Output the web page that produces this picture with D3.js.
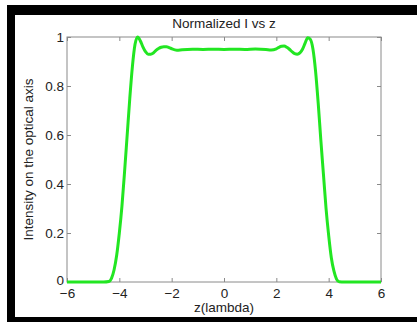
<!DOCTYPE html>
<html>
<head>
<meta charset="utf-8">
<script src="https://cdn.jsdelivr.net/npm/d3@7"></script>
<style>
  body { margin: 0; background: #fff; }
  svg { display: block; font-family: "Liberation Sans", Arial, sans-serif; }
</style>
</head>
<body>
<div id="chart"></div>
<script>
// data: z (lambda) vs normalized intensity
const zVals = [
  -6, -5.5, -5, -4.6, -4.4, -4.3, -4.2, -4.1, -4.0, -3.9, -3.8, -3.7, -3.6, -3.5, -3.4, -3.3,
  -3.2, -3.1, -3.0, -2.9, -2.8, -2.7, -2.6, -2.5, -2.4, -2.3, -2.2, -2.1, -2.0, -1.8, -1.6,
  -1.2, -0.8, -0.4, 0, 0.4, 0.8, 1.2, 1.6, 1.8, 2.0, 2.1, 2.2, 2.3, 2.4, 2.5, 2.6, 2.7,
  2.8, 2.9, 3.0, 3.1, 3.2, 3.3, 3.4, 3.5, 3.6, 3.7, 3.8, 3.9, 4.0, 4.1, 4.2, 4.3, 4.4, 4.6, 5, 5.5, 6
]
const intensity = [
  0, 0, 0, 0, 0.002, 0.015, 0.05, 0.11, 0.2, 0.31, 0.45, 0.6, 0.75, 0.88, 0.97, 1.0,
  0.985, 0.96, 0.94, 0.93, 0.93, 0.935, 0.945, 0.953, 0.958, 0.96, 0.96, 0.957, 0.952, 0.946, 0.948,
  0.95, 0.949, 0.95, 0.949, 0.95, 0.949, 0.951, 0.949, 0.947, 0.952, 0.958, 0.962, 0.963, 0.958, 0.95, 0.94, 0.932,
  0.93, 0.935, 0.95, 0.975, 0.997, 0.99, 0.95, 0.86, 0.73, 0.58, 0.44, 0.3, 0.19, 0.1, 0.045, 0.012, 0.001, 0, 0, 0, 0
]
const xTicks = [-6, -4, -2, 0, 2, 4, 6]
const yTicks = [0, 0.2, 0.4, 0.6, 0.8, 1]

const width = 417
const height = 322
const margin = {top: 37, right: 36, bottom: 40, left: 67}
const fontSize = "13.5px"

const svg = d3.select("#chart")
  .append("svg")
    .attr("width", width)
    .attr("height", height)

// black frame (left, top, bottom)
svg.append("rect").attr("x", 7).attr("y", 5).attr("width", 8).attr("height", height - 5).attr("fill", "#000")
svg.append("rect").attr("x", 7).attr("y", 5).attr("width", width - 7).attr("height", 10).attr("fill", "#000")
svg.append("rect").attr("x", 7).attr("y", 317).attr("width", width - 7).attr("height", 5).attr("fill", "#000")

const x = d3.scaleLinear()
  .domain([-6, 6])
  .range([margin.left, width - margin.right])

const y = d3.scaleLinear()
  .domain([0, 1])
  .range([height - margin.bottom, margin.top])

const axisColor = "#8a8a8a"
const labelColor = "#222"

function styleAxis(g) {
  g.select(".domain").remove()
  g.selectAll(".tick line").attr("stroke", axisColor)
  g.selectAll(".tick text").attr("fill", labelColor).attr("font-size", fontSize)
}

// bottom axis with inward ticks
svg.append("g")
  .attr("transform", "translate(0," + y(0) + ")")
  .call(d3.axisBottom(x).tickValues(xTicks).tickSize(-4).tickPadding(3).tickFormat(d3.format("d")))
  .call(styleAxis)
  .selectAll(".tick text").attr("dy", "0.95em")

// top axis, ticks only
svg.append("g")
  .attr("transform", "translate(0," + y(1) + ")")
  .call(d3.axisTop(x).tickValues(xTicks).tickSize(-4).tickFormat(""))
  .call(styleAxis)

// left axis
svg.append("g")
  .attr("transform", "translate(" + x(-6) + ",0)")
  .call(d3.axisLeft(y).tickValues(yTicks).tickSize(-4).tickPadding(3).tickFormat(d => d === 0 || d === 1 ? d : d3.format(".1f")(d)))
  .call(styleAxis)
  .selectAll(".tick text")
    .attr("dy", d => d === 0 ? "0.15em" : "0.32em")

// right axis, ticks only
svg.append("g")
  .attr("transform", "translate(" + x(6) + ",0)")
  .call(d3.axisRight(y).tickValues(yTicks).tickSize(-4).tickFormat(""))
  .call(styleAxis)

// box
svg.append("rect")
  .attr("x", x(-6))
  .attr("y", y(1))
  .attr("width", x(6) - x(-6))
  .attr("height", y(0) - y(1))
  .attr("fill", "none")
  .attr("stroke", axisColor)
  .attr("stroke-width", 1)

const points = zVals.map((z, i) => [z, intensity[i]])

const line = d3.line()
  .x(d => x(d[0]))
  .y(d => y(d[1]))
  .curve(d3.curveMonotoneX)

svg.append("path")
  .datum(points)
  .attr("d", line)
  .attr("fill", "none")
  .attr("stroke", "#22e622")
  .attr("stroke-width", 3)
  .attr("stroke-linejoin", "round")

// title and labels
svg.append("text")
  .attr("x", (x(-6) + x(6)) / 2)
  .attr("y", 28)
  .attr("text-anchor", "middle")
  .attr("font-size", fontSize)
  .attr("fill", labelColor)
  .text("Normalized I vs z")

svg.append("text")
  .attr("x", (x(-6) + x(6)) / 2)
  .attr("y", 312)
  .attr("text-anchor", "middle")
  .attr("font-size", fontSize)
  .attr("fill", labelColor)
  .text("z(lambda)")

svg.append("text")
  .attr("transform", "translate(33," + (y(0) + y(1)) / 2 + ") rotate(-90)")
  .attr("text-anchor", "middle")
  .attr("font-size", fontSize)
  .attr("fill", labelColor)
  .text("Intensity on the optical axis")
</script>
</body>
</html>
